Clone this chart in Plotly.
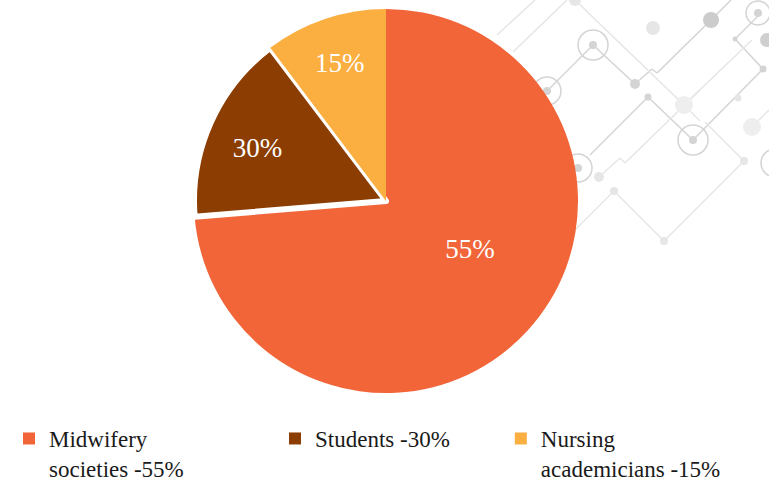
import plotly.graph_objects as go

labels = ["Midwifery<br>societies -55%", "Students -30%", "Nursing<br>academicians -15%"]
slice_values = [73.7, 16.0, 10.3]
slice_text = ["55%", "30%", "15%"]
colors = ["#F26539", "#8B3D02", "#FBAF41"]
border_widths = [0, 6, 0]

NB = "\u00a0"
THIN = "\u2009"
legend_labels = [
    labels[0] + NB * 15,
    labels[1] + NB * 8,
    labels[2],
]
# small spacing tweaks so the inside labels sit where the reference has them
display_text = [
    NB * 4 + slice_text[0] + "<br>" + NB,
    slice_text[1] + NB * 3,
    slice_text[2],
]

SERIF = "Liberation Serif, DejaVu Serif, Times New Roman, serif"

fig = go.Figure()
# legend entries (clean squares); its pie is given a sub-pixel domain
fig.add_trace(go.Pie(
    labels=legend_labels,
    values=slice_values,
    textinfo="none",
    marker=dict(colors=colors, line=dict(width=0)),
    sort=False,
    direction="clockwise",
    domain=dict(x=[0.0364, 0.0366], y=[0.0850, 0.0852]),
    showlegend=True,
    hoverinfo="skip",
))
# the drawn pie
fig.add_trace(go.Pie(
    labels=legend_labels,
    values=slice_values,
    text=display_text,
    textinfo="text",
    textposition="inside",
    insidetextorientation="horizontal",
    textfont=dict(family=SERIF, size=27, color="white"),
    marker=dict(colors=colors, line=dict(width=border_widths, color="white")),
    sort=False,
    direction="clockwise",
    rotation=0,
    hole=0,
    domain=dict(x=[0.25228, 0.75163], y=[0.18295, 0.98129]),
    showlegend=False,
))

# decorative circuit pattern (background)
L1 = "#d4d4d4"
L2 = "#e6e6e6"
shapes = []
def line(x0, y0, x1, y1, c=L1, w=1.5):
    shapes.append(dict(type="line", xref="paper", yref="paper", layer="below",
                       x0=x0/769, y0=1-y0/481, x1=x1/769, y1=1-y1/481,
                       line=dict(color=c, width=w)))
def dot(x, y, r, c=L1):
    shapes.append(dict(type="circle", xref="paper", yref="paper", layer="below",
                       x0=(x-r)/769, x1=(x+r)/769, y0=1-(y+r)/481, y1=1-(y-r)/481,
                       fillcolor=c, line=dict(width=0)))
def ring(x, y, r, c=L1):
    shapes.append(dict(type="circle", xref="paper", yref="paper", layer="below",
                       x0=(x-r)/769, x1=(x+r)/769, y0=1-(y+r)/481, y1=1-(y-r)/481,
                       line=dict(color=c, width=1.5)))
    dot(x, y, 4, c)

line(593, 45, 547, 91)
line(593, 45, 635, 84)
line(635, 84, 652, 69)
line(652, 69, 657, 73)
line(657, 73, 711, 20)
line(711, 20, 731, 0)
line(648, 97, 693, 140)
line(648, 97, 590, 155)
line(693, 140, 763, 69)
line(763, 69, 735, 39)
line(735, 39, 758, 16)
line(575, 0, 684, 105, L2)
line(684, 105, 700, 121, L2)
line(614, 191, 664, 241, L2)
line(664, 241, 744, 161, L2)
line(744, 161, 705, 122, L2)
line(599, 177, 620, 158, L2)
line(620, 158, 625, 163, L2)
line(625, 163, 700, 90, L2)
line(497, 35, 535, 0, L2)
line(513, 52, 567, 0, L2)
line(684, 105, 752, 40, L2)
line(752, 127, 769, 110, L2)
line(614, 191, 560, 245, L2)
ring(593, 45, 15)
ring(547, 91, 14)
ring(693, 140, 15)
ring(758, 13, 12)
ring(578, 168, 14)
ring(775, 163, 14)
dot(711, 20, 8, "#cccccc")
dot(653, 28, 7, L2)
dot(635, 84, 5)
dot(648, 97, 3.5)
dot(684, 105, 9, "#eeeeee")
dot(752, 127, 9, "#eeeeee")
dot(767, 40, 7, "#cfcfcf")
dot(763, 69, 3.5)
dot(735, 39, 2.5)
dot(744, 161, 4, L2)
dot(738, 98, 3.5, L2)
dot(614, 191, 4, L2)
dot(599, 177, 5, L2)
dot(664, 241, 4, L2)
dot(575, 0, 6, L2)

fig.update_layout(
    width=769, height=481,
    margin=dict(l=0, r=0, t=0, b=0, autoexpand=False),
    paper_bgcolor="white",
    plot_bgcolor="white",
    shapes=shapes,
    showlegend=True,
    legend=dict(
        orientation="h",
        x=0.0117, xanchor="left",
        y=0.133, yanchor="top",
        valign="top",
        font=dict(family=SERIF, size=23, color="#1a1a1a"),
        bgcolor="rgba(0,0,0,0)",
        itemclick=False,
    ),
)

fig.write_html("out.html", config={"displayModeBar": False},
               post_script="document.body.style.margin='0';")
